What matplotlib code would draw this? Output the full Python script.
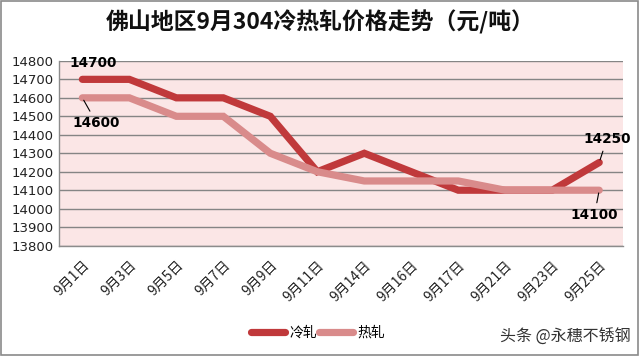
import matplotlib
matplotlib.use("Agg")
import matplotlib.pyplot as plt
from matplotlib.patches import Rectangle

plt.rcParams['font.family'] = ['Noto Sans CJK SC', 'DejaVu Sans']

categories = ['9月1日', '9月3日', '9月5日', '9月7日', '9月9日', '9月11日',
              '9月14日', '9月16日', '9月17日', '9月21日', '9月23日', '9月25日']
cold = [14700, 14700, 14600, 14600, 14500, 14200, 14300, 14200, 14100, 14100, 14100, 14250]
hot = [14600, 14600, 14500, 14500, 14300, 14200, 14150, 14150, 14150, 14100, 14100, 14100]
yticks = list(range(13800, 14801, 100))

cold_color = '#C0393B'
hot_color = '#D98B8B'

fig = plt.figure(figsize=(6.4, 3.56), dpi=100)
fig.patches.append(Rectangle((0.002, 0.003), 0.995, 0.993, transform=fig.transFigure,
                             fill=False, edgecolor='#8a8a8a', linewidth=1.2))
ax = fig.add_axes([0.092, 0.31, 0.881, 0.519])
ax.set_facecolor('#FBE6E6')

x = list(range(len(categories)))
ax.plot(x, cold, color=cold_color, linewidth=5.2, solid_joinstyle='miter', solid_capstyle='round', label='冷轧', zorder=3)
ax.plot(x, hot, color=hot_color, linewidth=5.2, solid_joinstyle='miter', solid_capstyle='round', label='热轧', zorder=3)

ax.set_xlim(-0.5, len(categories) - 0.5)
ax.set_ylim(13800, 14800)
ax.set_yticks(yticks)
ax.set_yticklabels([str(v) for v in yticks], fontsize=9.5, family='DejaVu Sans', color='#222222')
ax.set_xticks(x)
ax.set_xticklabels(categories, rotation=45, ha='right', rotation_mode='anchor', fontsize=10, color='#222222')
ax.tick_params(axis='both', length=0, pad=4)
ax.tick_params(axis='x', pad=9)
ax.yaxis.grid(True, color='#858585', linewidth=1.0)
ax.set_axisbelow(True)
for s in ['top', 'right']:
    ax.spines[s].set_visible(False)
for s in ['left', 'bottom']:
    ax.spines[s].set_color('#8c8c8c')
    ax.spines[s].set_linewidth(1.0)

lbl = dict(fontsize=9.8, fontweight='bold', family='DejaVu Sans', ha='center', va='center')
arrow = dict(arrowstyle='-', color='black', lw=0.8, shrinkA=1.5, shrinkB=2)
ax.annotate(str(cold[0]), xy=(x[0], cold[0]), xytext=(x[0] + 0.23, cold[0] + 87), **lbl)
ax.annotate(str(hot[0]), xy=(x[0], hot[0]), xytext=(x[0] + 0.3, hot[0] - 135),
            arrowprops=arrow, **lbl)
ax.annotate(str(cold[-1]), xy=(x[-1], cold[-1]), xytext=(x[-1] + 0.16, cold[-1] + 125),
            arrowprops=arrow, **lbl)
ax.annotate(str(hot[-1]), xy=(x[-1], hot[-1]), xytext=(x[-1] - 0.1, hot[-1] - 132),
            arrowprops=arrow, **lbl)

fig.text(0.5, 0.937, '佛山地区9月304冷热轧价格走势（元/吨）', ha='center', va='center',
         fontsize=16.5, fontweight='bold', color='#111111')

fig.legend(loc='center', bbox_to_anchor=(0.497, 0.066), ncol=2, frameon=False,
           fontsize=10, handlelength=2.45, columnspacing=0.15, handletextpad=0.3)

fig.text(0.985, 0.052, '头条 @永穗不锈钢', ha='right', va='center', fontsize=11.5, color='#333333')

fig.savefig('out.png', dpi=100)
